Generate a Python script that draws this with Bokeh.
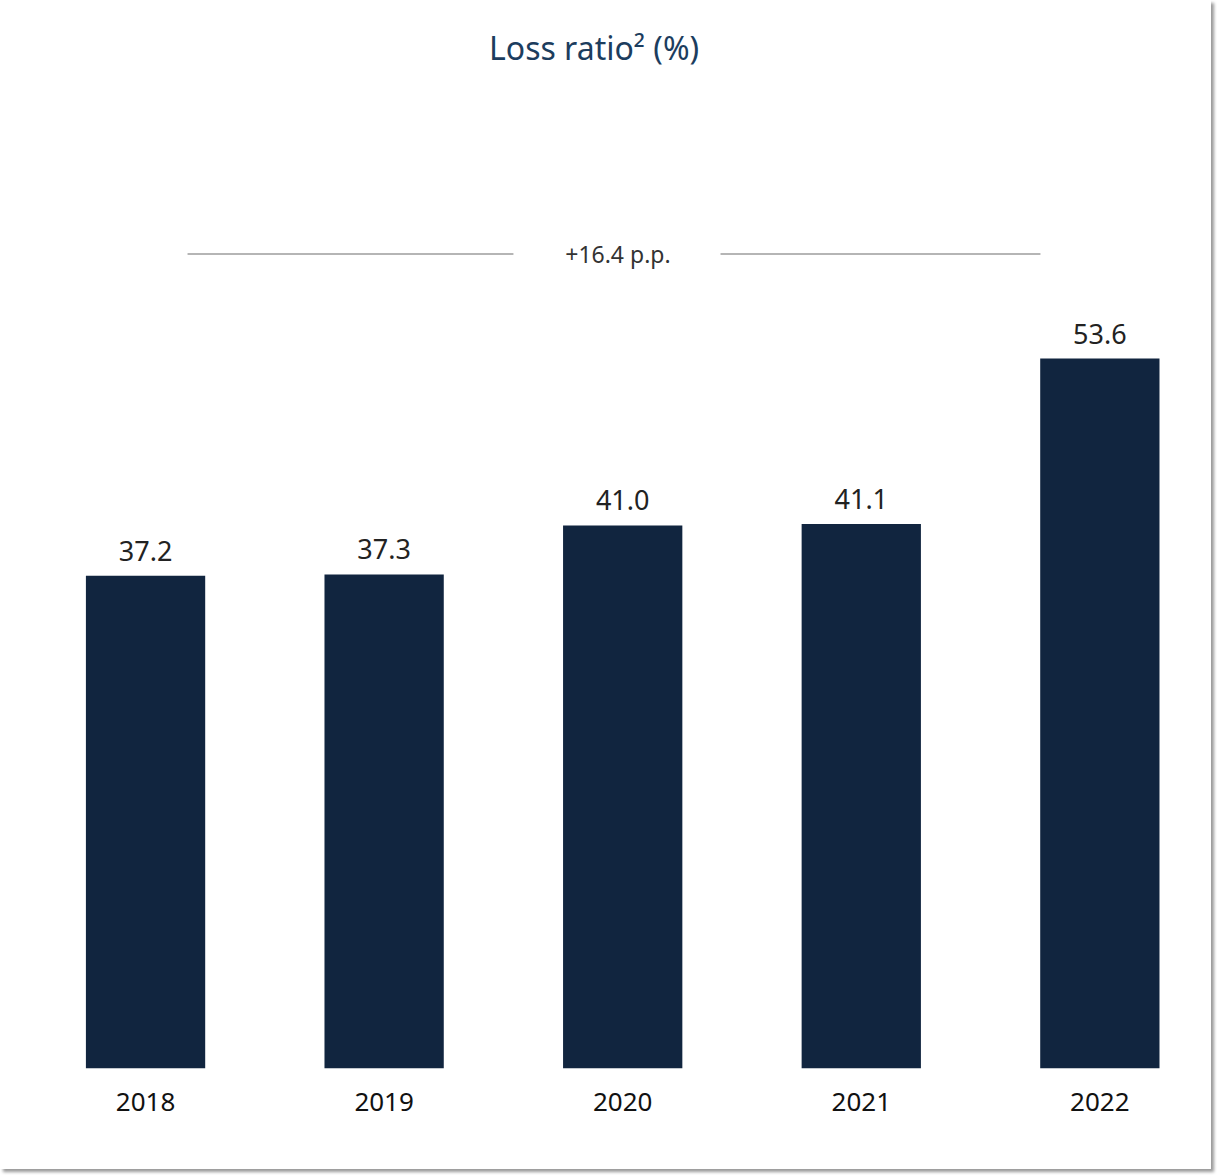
from bokeh.plotting import figure
from bokeh.models import Range1d, FixedTicker, ColumnDataSource, Label
from bokeh.core.properties import value
from bokeh.embed import file_html
from bokeh.resources import INLINE

years = ["2018", "2019", "2020", "2021", "2022"]
loss_ratio = [37.2, 37.3, 41.0, 41.1, 53.6]
value_labels = ["37.2", "37.3", "41.0", "41.1", "53.6"]
change_label = "+16.4 p.p."
title_text = "Loss ratio² (%)"

idx = list(range(len(years)))
src = ColumnDataSource(dict(x=idx, top=loss_ratio, lab=value_labels))

W, H = 1211, 1169
p = figure(width=W, height=H, output_backend="svg", toolbar_location=None,
           x_range=Range1d(-0.608, 4.468), y_range=Range1d(0, 80.63),
           min_border_left=0, min_border_right=0, min_border_top=0, min_border_bottom=101)
p.styles = {"box-shadow": "3px 3px 3px #9a9a9a"}
p.outline_line_color = None
p.background_fill_color = "white"
p.border_fill_color = "white"
p.xgrid.visible = False
p.ygrid.visible = False
p.yaxis.visible = False

p.vbar(x="x", top="top", bottom=0, width=0.5, source=src, color="#11253f", line_color=None)
p.text(x="x", y="top", text="lab", source=src, text_align="center", text_baseline="alphabetic",
       y_offset=-25, text_font=value("Noto Sans"), text_font_size="27px", text_color="#222222",
       text_font_style="normal")

# Title
p.add_layout(Label(x=1.88, y=77.1, text=title_text, text_align="center", text_baseline="middle",
                   text_font="Noto Sans", text_font_size="32px", text_color="#1c3d5e"))

# change annotation
p.segment(x0=[0.176, 2.41], y0=[61.5, 61.5], x1=[1.542, 3.751], y1=[61.5, 61.5],
          line_color="#b5b5b5", line_width=2)
p.add_layout(Label(x=1.98, y=61.5, text=change_label, text_align="center", text_baseline="middle",
                   text_font="Noto Sans", text_font_size="23px", text_color="#333333"))

ax = p.xaxis[0]
ax.ticker = FixedTicker(ticks=idx)
ax.major_label_overrides = {i: y for i, y in zip(idx, years)}
ax.axis_line_color = None
ax.major_tick_line_color = None
ax.minor_tick_line_color = None
ax.major_tick_out = 0
ax.major_label_standoff = 24
ax.major_label_text_font = "Noto Sans"
ax.major_label_text_font_size = "26px"
ax.major_label_text_color = "#111111"

open("out.html", "w").write(file_html(p, INLINE))
